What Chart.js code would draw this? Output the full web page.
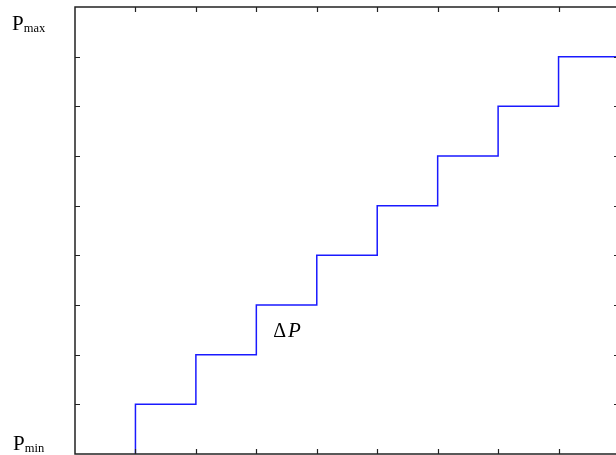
<!DOCTYPE html>
<html><head><meta charset="utf-8">
<script src="https://cdn.jsdelivr.net/npm/chart.js@4"></script>
<style>html,body{margin:0;padding:0;background:#fff;overflow:hidden;width:616px;height:455px}#wrap{width:620px;height:455px;position:relative}</style>
</head><body><div id="wrap"><canvas id="c"></canvas></div>
<script>
const stepX = [1, 2, 3, 4, 5, 6, 7, 8, 9];
const stepY = [0, 1, 2, 3, 4, 5, 6, 7, 8];
const xTicks = [1, 2, 3, 4, 5, 6, 7, 8];
const yTicks = [1, 2, 3, 4, 5, 6, 7, 8];
const xRange = [0, 9];
const yRange = [0, 9];
const yLabelMax = ['P', 'max'];
const yLabelMin = ['P', 'min'];
const stepNote = { x: 3.28, y: 2.35, text: ['Δ', 'P'] };

const frame = {
  id: 'frame',
  afterDraw(chart) {
    const { ctx, chartArea: a, scales: { x, y } } = chart;
    ctx.save();
    ctx.strokeStyle = '#222';
    ctx.lineWidth = 1.5;
    ctx.strokeRect(a.left, a.top, a.right - a.left, a.bottom - a.top);
    ctx.lineWidth = 1.2;
    const L = 5;
    ctx.beginPath();
    xTicks.forEach(v => {
      const px = Math.round(x.getPixelForValue(v)) + 0.5;
      ctx.moveTo(px, a.top); ctx.lineTo(px, a.top + L);
      ctx.moveTo(px, a.bottom); ctx.lineTo(px, a.bottom - L);
    });
    yTicks.forEach(v => {
      const py = Math.round(y.getPixelForValue(v)) + 0.5;
      ctx.moveTo(a.left, py); ctx.lineTo(a.left + L, py);
      ctx.moveTo(a.right, py); ctx.lineTo(a.right - L, py);
    });
    ctx.stroke();
    ctx.fillStyle = '#000';
    ctx.textBaseline = 'alphabetic';
    function sub(parts, xx, yy) {
      ctx.font = '21px "Liberation Serif"';
      ctx.fillText(parts[0], xx, yy);
      const w = ctx.measureText(parts[0]).width;
      ctx.font = '12.5px "Liberation Serif"';
      ctx.fillText(parts[1], xx + w, yy + 2);
    }
    sub(yLabelMax, 12, 30);
    sub(yLabelMin, 13, 450);
    const nx = x.getPixelForValue(stepNote.x), ny = y.getPixelForValue(stepNote.y);
    ctx.font = '20px "Liberation Serif"';
    ctx.fillText(stepNote.text[0], nx, ny);
    const w2 = ctx.measureText(stepNote.text[0]).width;
    ctx.font = 'italic 21px "Liberation Serif"';
    ctx.fillText(stepNote.text[1], nx + w2 + 2, ny);
    ctx.restore();
  }
};

new Chart(document.getElementById('c'), {
  type: 'line',
  data: {
    datasets: [{
      data: stepX.map((v, i) => ({ x: v, y: stepY[i] })),
      borderColor: '#1a1aff',
      borderWidth: 1.5,
      pointRadius: 0,
      stepped: 'after',
      fill: false
    }]
  },
  options: {
    responsive: true,
    maintainAspectRatio: false,
    animation: false,
    devicePixelRatio: 1,
    layout: { padding: { left: 75, top: 7, right: 1, bottom: 1 } },
    plugins: { legend: { display: false }, tooltip: { enabled: false } },
    scales: {
      x: { type: 'linear', min: xRange[0], max: xRange[1], display: false },
      y: { type: 'linear', min: yRange[0], max: yRange[1], display: false }
    }
  },
  plugins: [frame]
});
</script>
</body></html>
